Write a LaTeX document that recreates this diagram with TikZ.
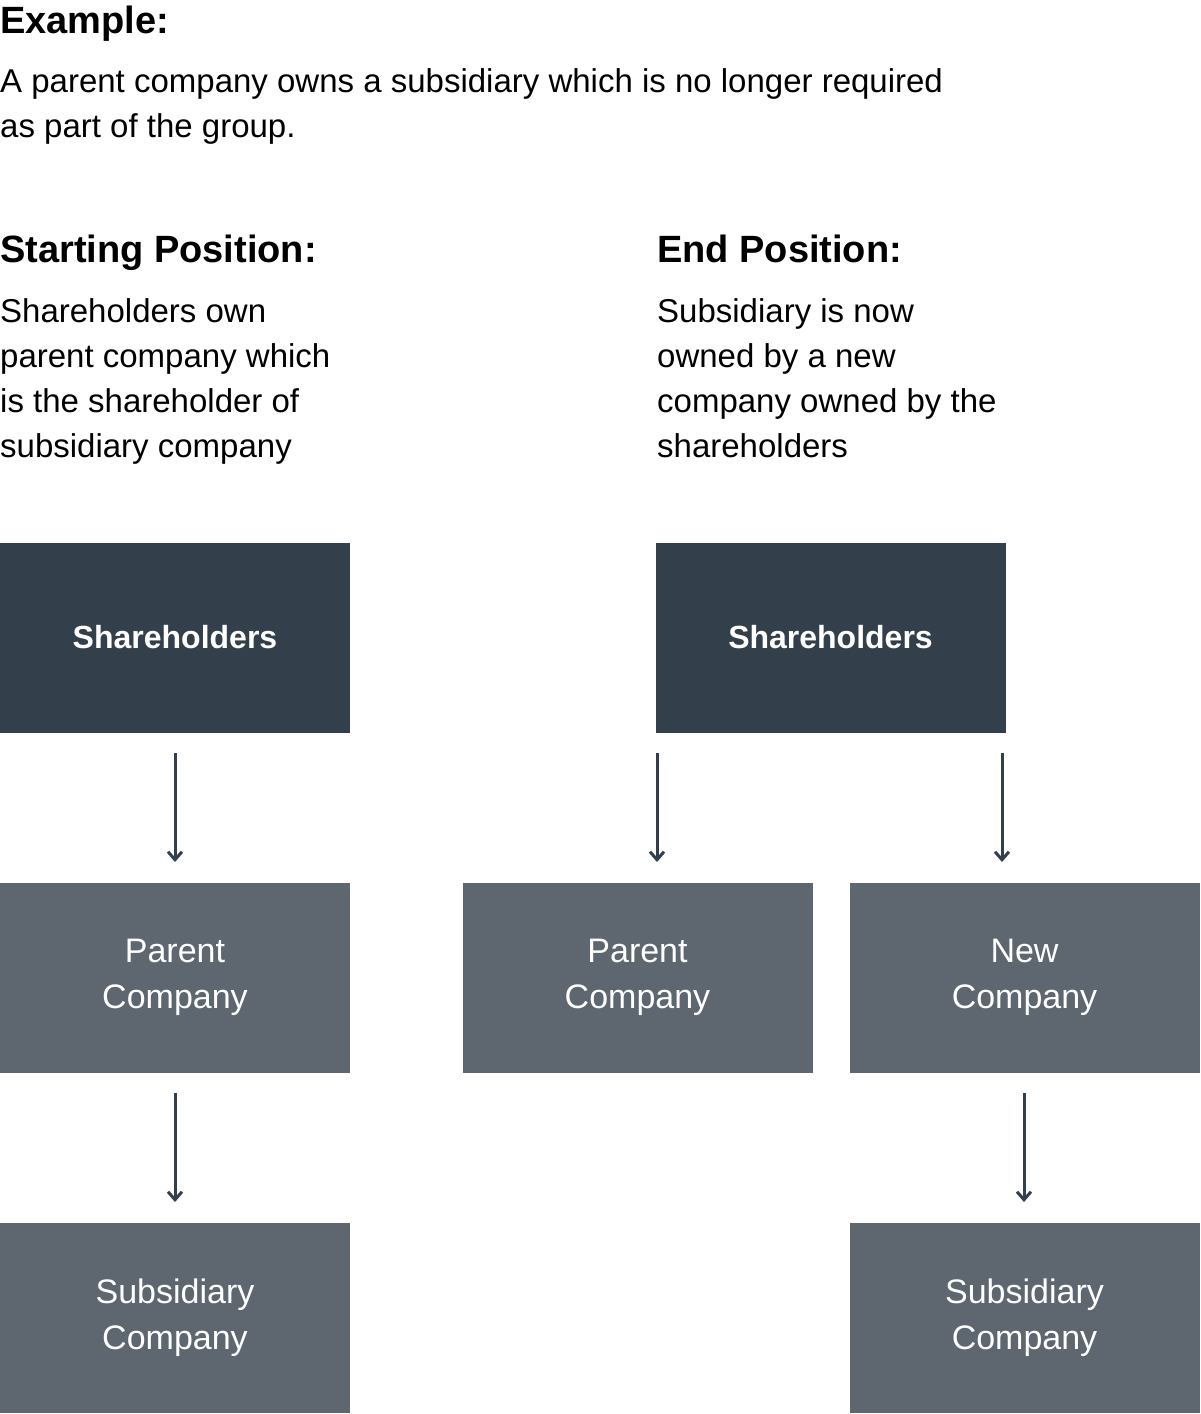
\documentclass[tikz,border=0pt]{standalone}
\usepackage{fontspec}
\setmainfont{Liberation Sans}
\usetikzlibrary{arrows.meta}
\definecolor{darkbox}{HTML}{333F4A}
\definecolor{midbox}{HTML}{5E6670}
\definecolor{arr}{HTML}{333F4A}
\tikzset{
  txt/.style={anchor=base west,inner sep=0pt,font=\fontsize{33}{45}\selectfont,align=left},
  head/.style={anchor=base west,inner sep=0pt,font=\fontsize{38}{45}\selectfont\bfseries},
  darkb/.style={fill=darkbox,draw=none,minimum width=350pt,minimum height=190pt,inner sep=0pt,text=white,font=\fontsize{32}{40}\selectfont\bfseries},
  midb/.style={fill=midbox,draw=none,minimum width=350pt,minimum height=190pt,inner sep=0pt,text=white,align=center,font=\fontsize{34}{46}\selectfont},
  conn/.style={draw=arr,line width=3pt,-{Straight Barb[length=8pt,width=14pt,line width=3pt]}}
}
\begin{document}
\begin{tikzpicture}[x=1pt,y=-1pt]
\useasboundingbox (0,0) rectangle (1200,1414);
\node[head] (ex) at (0,33) {Example:};
\node[txt] (l1) at (0,92) {A parent company owns a subsidiary which is no longer required};
\node[txt] (l2) at (0,137) {as part of the group.};
\node[head] (sp) at (0,262) {Starting Position:};
\node[head] (ep) at (657,262) {End Position:};
\node[txt] (sd) at (0,322) {Shareholders own};
\node[txt] at (0,367) {parent company which};
\node[txt] at (0,412) {is the shareholder of};
\node[txt] at (0,457) {subsidiary company};
\node[txt] (ed) at (657,322) {Subsidiary is now};
\node[txt] at (657,367) {owned by a new};
\node[txt] at (657,412) {company owned by the};
\node[txt] at (657,457) {shareholders};

\node[darkb] (s1) at (175,637.5) {Shareholders};
\node[midb] (p1) at (175,977.5) {Parent\\Company};
\node[midb] (c1) at (175,1318) {Subsidiary\\Company};
\node[darkb] (s2) at (830.5,637.5) {Shareholders};
\node[midb] (p2) at (637.5,977.5) {Parent\\Company};
\node[midb] (n2) at (1024.5,977.5) {New\\Company};
\node[midb] (c2) at (1024.5,1318) {Subsidiary\\Company};

\coordinate (a1s) at (175,753); \coordinate (a1e) at (175,862);
\coordinate (a2s) at (175,1093); \coordinate (a2e) at (175,1202);
\coordinate (a3s) at (657,753); \coordinate (a3e) at (657,862);
\coordinate (a4s) at (1002,753); \coordinate (a4e) at (1002,862);
\coordinate (a5s) at (1024,1093); \coordinate (a5e) at (1024,1202);
\draw[conn] (a1s) -- (a1e);
\draw[conn] (a2s) -- (a2e);
\draw[conn] (a3s) -- (a3e);
\draw[conn] (a4s) -- (a4e);
\draw[conn] (a5s) -- (a5e);
\end{tikzpicture}
\end{document}
